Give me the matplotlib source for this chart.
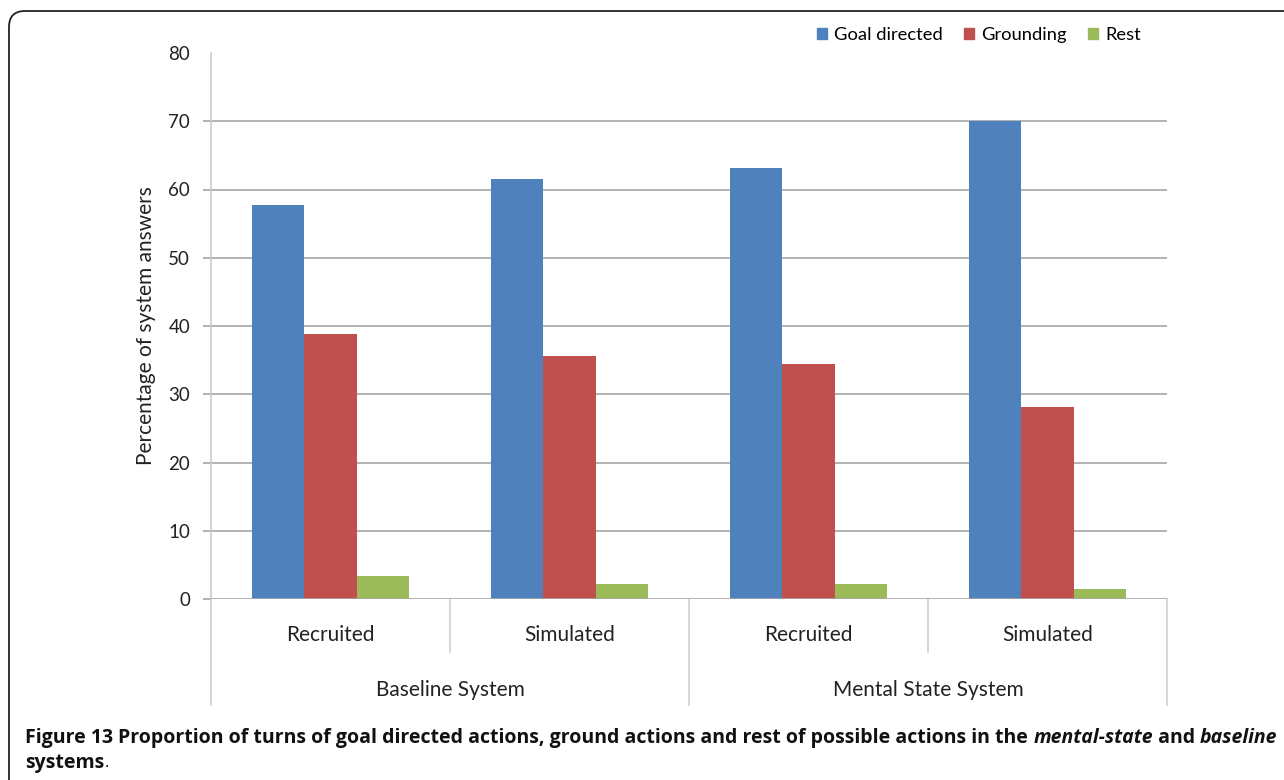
import numpy as np
import matplotlib.pyplot as plt
from matplotlib.patches import Patch, FancyBboxPatch
import matplotlib.transforms as mtransforms

# data
groups = ['Baseline System', 'Mental State System']
conditions = ['Recruited', 'Simulated', 'Recruited', 'Simulated']
series = ['Goal directed', 'Grounding', 'Rest']
goal_directed = [57.7, 61.6, 63.2, 70.1]
grounding = [38.8, 35.6, 34.4, 28.1]
rest = [3.3, 2.2, 2.2, 1.4]
yticks = [0, 10, 20, 30, 40, 50, 60, 70, 80]

colors = ['#4F81BD', '#C0504D', '#9BBB59']
grid_col = '#a6a6a6'
font = 'Lato'

W, H = 1284, 780
fig = plt.figure(figsize=(W / 100, H / 100), dpi=100)
fig.patch.set_facecolor('white')

# frame round the figure panel (rounded top-left corner)
frame = FancyBboxPatch((0.09, -1.0), 14.0, 7.69 + 1.0,
                       boxstyle='round,pad=0,rounding_size=0.16',
                       transform=fig.dpi_scale_trans, fill=False,
                       edgecolor='#222222', linewidth=1.3)
fig.patches.append(frame)

ax_l, ax_r, ax_t, ax_b = 211, 1167, 53, 599
ax = fig.add_axes([ax_l / W, (H - ax_b) / H, (ax_r - ax_l) / W, (ax_b - ax_t) / H])

x = np.arange(len(conditions))
w = 0.22
for i, vals in enumerate([goal_directed, grounding, rest]):
    ax.bar(x + (i - 1) * w, vals, w, color=colors[i], edgecolor='none', zorder=3)

ax.set_xlim(-0.5, len(conditions) - 0.5)
ax.set_ylim(0, 80)
ax.set_yticks(yticks)
ax.set_yticklabels([str(t) for t in yticks], fontfamily=font, fontsize=13.5, color='#222222')
for t in yticks[1:-1]:
    ax.axhline(t, color=grid_col, linewidth=1.2, zorder=1)
ax.axhline(0, color=grid_col, linewidth=1.2, zorder=4)
ax.tick_params(axis='y', length=6, width=1.2, color=grid_col, pad=9)
ax.yaxis.get_major_ticks()[-1].tick1line.set_visible(False)
ax.set_xticks([])
for s in ['top', 'right', 'bottom']:
    ax.spines[s].set_visible(False)
ax.spines['left'].set_color('#cccccc')
ax.spines['left'].set_linewidth(1.2)
ax.set_ylabel('Percentage of system answers', fontfamily=font, fontsize=15,
              color='#222222', labelpad=9)

# two-level category axis drawn under the plot
trans = mtransforms.blended_transform_factory(ax.transData, ax.transAxes)
ah = ax_b - ax_t
for i, c in enumerate(conditions):
    ax.text(x[i], -36 / ah, c, transform=trans, ha='center', va='center',
            fontfamily=font, fontsize=15, color='#222222')
for g, name in enumerate(groups):
    ax.text(2 * g + 0.5, -91 / ah, name, transform=trans, ha='center', va='center',
            fontfamily=font, fontsize=15, color='#222222')
for b in np.arange(-0.5, len(conditions), 1.0):
    depth = 106 if (b + 0.5) % 2 == 0 else 53
    ax.plot([b, b], [0, -depth / ah], transform=trans, color='#d0d0d0',
            linewidth=1.2, clip_on=False)

# legend
handles = [Patch(color=colors[i], label=series[i]) for i in range(3)]
fig.legend(handles=handles, loc='center', bbox_to_anchor=(979 / W, 1 - 35 / H),
           ncol=3, frameon=False, handlelength=0.55, handleheight=0.55,
           handletextpad=0.4, columnspacing=1.15,
           prop={'family': font, 'size': 13.2})

# caption with mixed bold / italic runs
cap_font = 'Open Sans'
cap_size = 14.0
fig.canvas.draw()
renderer = fig.canvas.get_renderer()
line1 = [('Figure 13 ', 'bold', 'normal'),
         ('Proportion of turns of goal directed actions, ground actions and rest of possible actions in the ', 'bold', 'normal'),
         ('mental-state', 'bold', 'italic'),
         (' and ', 'bold', 'normal'),
         ('baseline', 'bold', 'italic')]
xpos = 25
for txt, wt, st in line1:
    t = fig.text(xpos / W, 1 - 738 / H, txt, fontfamily=cap_font, fontsize=cap_size,
                 fontweight=wt, fontstyle=st, va='center', ha='left', color='#111111')
    xpos += t.get_window_extent(renderer).width
t = fig.text(25 / W, 1 - 763 / H, 'systems', fontfamily=cap_font, fontsize=cap_size,
             fontweight='bold', va='center', ha='left', color='#111111')
xend = 25 + t.get_window_extent(renderer).width
fig.text(xend / W, 1 - 763 / H, '.', fontfamily=cap_font, fontsize=cap_size - 2,
         va='center', ha='left', color='#111111')

fig.savefig('out.png', dpi=100)
